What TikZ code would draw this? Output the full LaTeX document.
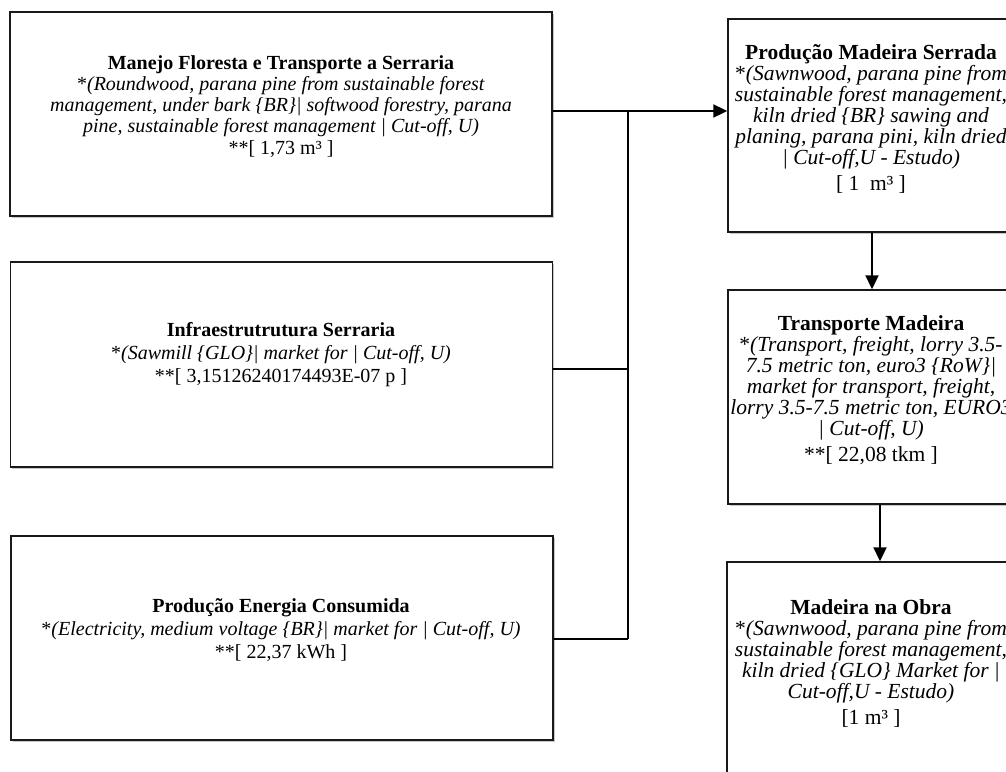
\documentclass[tikz,border=0pt]{standalone}
\usepackage{fontspec}
\setmainfont{Liberation Serif}
\usetikzlibrary{arrows.meta,shadows}
\tikzset{
  box/.style={draw=black!90, line width=1.4pt, fill=white, rectangle, inner sep=0pt,
    drop shadow={shadow xshift=1.5pt, shadow yshift=-2pt, fill=black, opacity=0.22}},
  txt/.style={align=center, font=\fontsize{20}{21}\selectfont, inner sep=0pt},
  wtxt/.style={txt, font=\fontsize{20}{23}\selectfont},
  rtxt/.style={txt, font=\fontsize{21.5}{21}\selectfont},
  link/.style={line width=1.3pt},
  flow/.style={line width=2pt, -{Triangle[length=14pt,width=13pt]}},
}
\begin{document}
\begin{tikzpicture}[x=1pt,y=-1pt]
\useasboundingbox (0,0) rectangle (1006,771);
\clip (0,0) rectangle (1006,771);
\fill[white] (0,0) rectangle (1006,771);

% left column: inputs
\node[box, minimum width=542pt, minimum height=204pt] (b1) at (281,114) {};
\node[txt] (t1) at (281,107) {\textbf{Manejo Floresta e Transporte a Serraria}\\
  *\textit{(Roundwood, parana pine from sustainable forest}\\
  \textit{management, under bark \{BR\}| softwood forestry, parana}\\
  \textit{pine, sustainable forest management | Cut-off, U)}\\[1pt]
  **[ 1,73 m³ ]};

\node[box, minimum width=542pt, minimum height=205pt] (b2) at (281.5,364.5) {};
\node[wtxt] (t2) at (281,355) {\textbf{Infraestrutrutura Serraria}\\
  *\textit{(Sawmill \{GLO\}| market for | Cut-off, U)}\\
  **[ 3,15126240174493E-07 p ]};

\node[box, minimum width=542pt, minimum height=204pt] (b3) at (282,638) {};
\node[wtxt] (t3) at (281,630) {\textbf{Produção Energia Consumida}\\
  *\textit{(Electricity, medium voltage \{BR\}| market for | Cut-off, U)}\\
  **[ 22,37 kWh ]};

% right column: process chain
\node[box, minimum width=286pt, minimum height=213pt] (r1) at (871,125.5) {};
\node[rtxt] (s1) at (871,119) {\textbf{Produção Madeira Serrada}\\
  *\textit{(Sawnwood, parana pine from}\\
  \textit{sustainable forest management,}\\
  \textit{kiln dried \{BR\} sawing and}\\
  \textit{planing, parana pini, kiln dried}\\
  \textit{| Cut-off,U - Estudo)}\\[5pt]
  [ 1\ \ m³ ]};

\node[box, minimum width=286pt, minimum height=214pt] (r2) at (871,397) {};
\node[rtxt] (s2) at (871,390.5) {\textbf{Transporte Madeira}\\
  *\textit{(Transport, freight, lorry 3.5-}\\
  \textit{7.5 metric ton, euro3 \{RoW\}|}\\
  \textit{market for transport, freight,}\\
  \textit{lorry 3.5-7.5 metric ton, EURO3}\\
  \textit{| Cut-off, U)}\\[5pt]
  **[ 22,08 tkm ]};

\node[box, minimum width=288pt, minimum height=218pt] (r3) at (871,671) {};
\node[rtxt] (s3) at (871,663) {\textbf{Madeira na Obra}\\
  *\textit{(Sawnwood, parana pine from}\\
  \textit{sustainable forest management,}\\
  \textit{kiln dried \{GLO\} Market for |}\\
  \textit{Cut-off,U - Estudo)}\\[5pt]
  [1 m³ ]};

% connectors
\coordinate (j1) at (628,111);
\coordinate (j2) at (628,369);
\coordinate (j3) at (628,639);
\draw[flow] (b1.east |- j1) -- (r1.west |- j1);
\draw[link] (j1) -- (j3);
\draw[link] (b2.east |- j2) -- (j2);
\draw[link] (b3.east |- j3) -- (j3);
\draw[flow] (r1.south -| 872,0) -- (r2.north -| 872,0);
\draw[flow] (r2.south -| 880,0) -- (r3.north -| 880,0);
\end{tikzpicture}
\end{document}
